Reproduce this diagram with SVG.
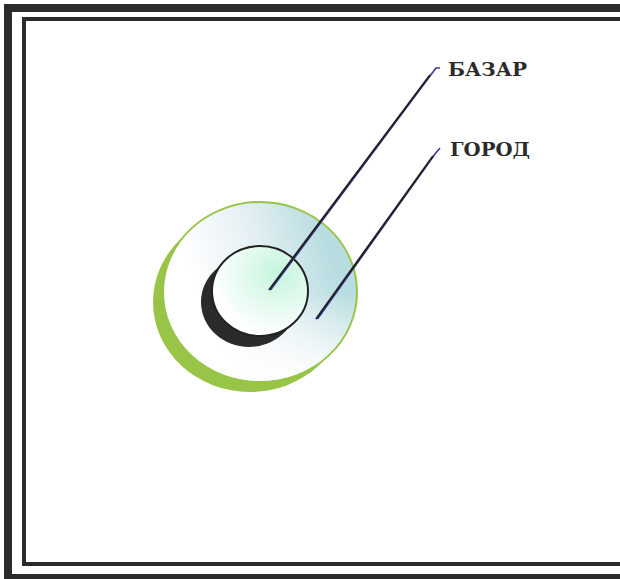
<svg xmlns="http://www.w3.org/2000/svg" width="620" height="579" viewBox="0 0 620 579">
<defs>
<linearGradient id="gBig" x1="0" y1="0.5" x2="1" y2="0.2">
<stop offset="0.15" stop-color="#ffffff"/>
<stop offset="0.5" stop-color="#e6f0f4"/>
<stop offset="0.85" stop-color="#b8dde0"/>
</linearGradient>
<linearGradient id="gBig2" x1="0" y1="0" x2="0" y2="1">
<stop offset="0.5" stop-color="#ffffff" stop-opacity="0"/>
<stop offset="1" stop-color="#ffffff" stop-opacity="1"/>
</linearGradient>
<radialGradient id="gSmall" cx="0.7" cy="0.3" r="0.7">
<stop offset="0" stop-color="#c4f5dc"/>
<stop offset="1" stop-color="#ffffff"/>
</radialGradient>
<style>
.frame{fill:none;stroke:#2b2b2b}
.lbl{font-family:"DejaVu Serif",serif;font-weight:bold;font-size:19px;fill:#2b2b2b}
.lk{fill:none;stroke:#222;stroke-width:2}
.lb{fill:none;stroke:#3a3aa0;stroke-width:1.6}
</style>
</defs>
<rect width="620" height="579" fill="#ffffff"/>
<g id="frame">
<rect class="frame" x="8" y="8" width="620" height="570" stroke-width="8"/>
<rect class="frame" x="24" y="19" width="620" height="545" stroke-width="4"/>
</g>
<g id="city">
<ellipse cx="250" cy="302" rx="97" ry="90" fill="#98c548"/>
<ellipse cx="260" cy="292" rx="97" ry="90" fill="url(#gBig)" stroke="#98c548" stroke-width="2"/>
<ellipse cx="260" cy="292" rx="96" ry="89" fill="url(#gBig2)"/>
</g>
<g id="bazaar">
<ellipse cx="249" cy="302" rx="48" ry="45" fill="#2b2b2b"/>
<ellipse cx="260" cy="291" rx="48" ry="45" fill="url(#gSmall)" stroke="#222" stroke-width="2"/>
</g>
<g id="connectors">
<polyline class="lb" points="270.5,290 431.5,74 436,68 440,68"/>
<line class="lk" x1="269" y1="290" x2="430" y2="75"/>
<polyline class="lb" points="317.5,319 435,154 440,148"/>
<line class="lk" x1="316" y1="319" x2="433" y2="156"/>
</g>
<g id="labels">
<text class="lbl" x="448" y="76" textLength="79" lengthAdjust="spacingAndGlyphs">БАЗАР</text>
<text class="lbl" x="450" y="156" textLength="80" lengthAdjust="spacingAndGlyphs">ГОРОД</text>
</g>
</svg>
